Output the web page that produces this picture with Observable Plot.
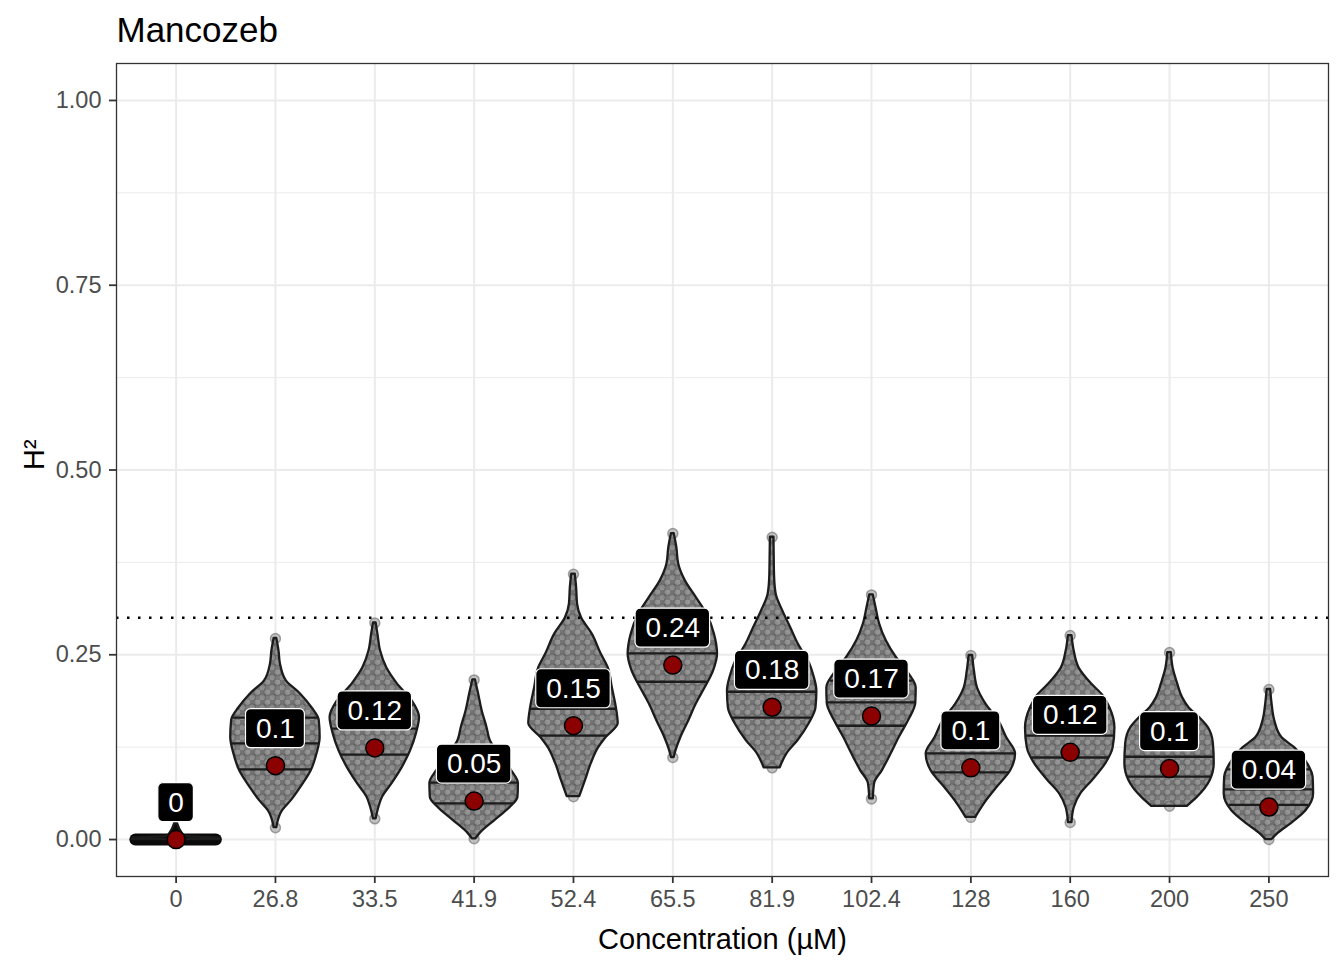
<!DOCTYPE html>
<html><head><meta charset="utf-8">
<script src="https://cdn.jsdelivr.net/npm/d3@7"></script>
<script src="https://cdn.jsdelivr.net/npm/@observablehq/plot@0.6"></script>
<style>body{margin:0;background:#fff}#chart svg{display:block}</style>
</head><body><div id="chart"></div>
<script>
// ---- data ----
const chartTitle = "Mancozeb";
const xTitle = "Concentration (µM)";
const yTitle = "H²";
const concentrations = ["0","26.8","33.5","41.9","52.4","65.5","81.9","102.4","128","160","200","250"];
const h2Estimates = [0, 0.100, 0.124, 0.052, 0.154, 0.236, 0.179, 0.167, 0.097, 0.118, 0.096, 0.044];
const q25 = [0, 0.095, 0.115, 0.049, 0.1405, 0.2135, 0.165, 0.154, 0.091, 0.111, 0.085, 0.047];
const q50 = [0, 0.130, 0.150, 0.077, 0.177, 0.252, 0.200, 0.1856, 0.1166, 0.1405, 0.112, 0.068];
const q75 = [0, 0.165, 0.182, 0.105, 0.213, 0.290, 0.235, 0.215, 0.158, 0.178, 0.165, 0.095];
// relative density (1 = widest violin) at H² values, per concentration
const densityProfiles = [
  [[0.000,0.98],[0.002,0.95],[0.004,0.20],[0.010,0.12],[0.022,0.03]],
  [[0.016,0.03],[0.039,0.16],[0.053,0.36],[0.070,0.56],[0.093,0.80],[0.116,0.93],[0.138,1.0],[0.161,0.98],[0.178,0.82],[0.197,0.56],[0.215,0.24],[0.238,0.11],[0.255,0.08],[0.272,0.03]],
  [[0.028,0.03],[0.043,0.09],[0.057,0.17],[0.076,0.39],[0.097,0.61],[0.120,0.80],[0.143,0.93],[0.165,1.0],[0.188,0.83],[0.211,0.50],[0.232,0.27],[0.255,0.13],[0.278,0.07],[0.293,0.03]],
  [[0.001,0.04],[0.008,0.13],[0.026,0.47],[0.043,0.80],[0.057,0.98],[0.076,0.99],[0.093,0.84],[0.114,0.58],[0.134,0.36],[0.151,0.29],[0.174,0.18],[0.197,0.10],[0.216,0.03]],
  [[0.058,0.14],[0.080,0.27],[0.103,0.40],[0.124,0.56],[0.138,0.73],[0.157,1.0],[0.178,0.96],[0.205,0.87],[0.232,0.78],[0.251,0.62],[0.278,0.42],[0.300,0.18],[0.319,0.09],[0.341,0.07],[0.359,0.04]],
  [[0.111,0.03],[0.120,0.07],[0.138,0.18],[0.161,0.36],[0.184,0.53],[0.205,0.72],[0.228,0.91],[0.251,1.0],[0.278,0.93],[0.305,0.76],[0.327,0.53],[0.350,0.28],[0.373,0.13],[0.395,0.09],[0.414,0.03]],
  [[0.097,0.18],[0.116,0.33],[0.134,0.58],[0.157,0.83],[0.178,0.98],[0.201,1.0],[0.222,0.93],[0.238,0.84],[0.265,0.58],[0.286,0.42],[0.309,0.24],[0.332,0.09],[0.354,0.055],[0.386,0.045],[0.409,0.04]],
  [[0.055,0.04],[0.076,0.07],[0.093,0.24],[0.116,0.44],[0.138,0.62],[0.161,0.83],[0.184,0.99],[0.205,1.0],[0.224,0.84],[0.246,0.56],[0.269,0.33],[0.292,0.18],[0.314,0.10],[0.331,0.04]],
  [[0.030,0.11],[0.049,0.31],[0.070,0.58],[0.093,0.89],[0.116,1.0],[0.138,0.80],[0.161,0.62],[0.184,0.33],[0.205,0.15],[0.228,0.08],[0.249,0.04]],
  [[0.023,0.04],[0.043,0.09],[0.062,0.24],[0.080,0.50],[0.103,0.80],[0.124,0.96],[0.151,1.0],[0.178,0.89],[0.195,0.73],[0.211,0.47],[0.232,0.20],[0.255,0.09],[0.276,0.04]],
  [[0.045,0.40],[0.057,0.62],[0.080,0.91],[0.103,1.0],[0.130,0.98],[0.151,0.87],[0.165,0.67],[0.178,0.44],[0.192,0.29],[0.211,0.18],[0.232,0.08],[0.253,0.04]],
  [[0.000,0.07],[0.008,0.20],[0.022,0.51],[0.039,0.83],[0.062,1.0],[0.084,0.99],[0.100,0.89],[0.114,0.73],[0.124,0.58],[0.138,0.29],[0.161,0.13],[0.184,0.07],[0.203,0.04]]
];
const yMajorTicks = [0, 0.25, 0.5, 0.75, 1];
const yMinorTicks = [0.125, 0.375, 0.625, 0.875];
const threshold = 0.3;

// ---- layout / style ----
const W = 1344, H = 960, ML = 116, MR = 16, MT = 63, MB = 84;
const xDomain = [0.4, concentrations.length + 0.6];
const yDomain = [-0.05, 1.05];
const halfW = 0.45;          // ggplot violin width 0.9
const labelNudge = 0.05;     // geom_label nudge_y
const labelFont = 28, labelPad = 10, labelHalfH = 19.5;
const pxPerX = (W - ML - MR) / (xDomain[1] - xDomain[0]);
const pxPerY = (H - MT - MB) / (yDomain[1] - yDomain[0]);
const font = "'Liberation Sans', Arial, Helvetica, sans-serif";
const grid = "#ebebeb";
const ink = "#1c1c1c";

// ---- derived tables ----
const groups = concentrations.map((c, k) => {
  const prof = densityProfiles[k];
  return {k, pos: k + 1, label: c, h2: h2Estimates[k], prof,
    ymin: prof[0][0], ymax: prof[prof.length - 1][0],
    flat: prof[prof.length - 1][0] - prof[0][0] < 0.05};
});
const violinRows = groups.flatMap(g => g.prof.map(([y, d]) => ({g: g.label, flat: g.flat, y, x1: g.pos - halfW * d, x2: g.pos + halfW * d})));
function densAt(prof, y) {
  for (let j = 1; j < prof.length; j++) {
    if (y <= prof[j][0]) {
      const [y0, d0] = prof[j - 1], [y1, d1] = prof[j];
      return d0 + (d1 - d0) * (y - y0) / (y1 - y0);
    }
  }
  return prof[prof.length - 1][1];
}
const quantRows = groups.filter(g => !g.flat).flatMap(g =>
  [q25[g.k], q50[g.k], q75[g.k]].map(q => {
    const d = densAt(g.prof, q);
    return {y: q, x1: g.pos - halfW * d, x2: g.pos + halfW * d};
  }));
const tipRows = groups.filter(g => !g.flat).flatMap(g => [{x: g.pos, y: g.ymin}, {x: g.pos, y: g.ymax}]);
const fmt = v => String(+v.toFixed(2));
const charW = ch => (ch === "." ? 0.278 : 0.556);
const labelRows = groups.map(g => {
  const t = fmt(g.h2);
  const w = [...t].reduce((s, ch) => s + charW(ch), 0) * labelFont;
  const hx = (w / 2 + labelPad) / pxPerX, hy = labelHalfH / pxPerY;
  const yc = g.h2 + labelNudge;
  return {x: g.pos, y: yc, t, x1: g.pos - hx, x2: g.pos + hx, y1: yc - hy, y2: yc + hy};
});

const svg = Plot.plot({
  width: W, height: H,
  marginLeft: ML, marginRight: MR, marginTop: MT, marginBottom: MB,
  style: {fontFamily: font, background: "white", color: "black"},
  x: {domain: xDomain},
  y: {domain: yDomain},
  marks: [
    Plot.gridY(yMinorTicks, {stroke: grid, strokeOpacity: 1, strokeWidth: 1}),
    Plot.gridY(yMajorTicks, {stroke: grid, strokeOpacity: 1, strokeWidth: 2}),
    Plot.gridX(groups.map(g => g.pos), {stroke: grid, strokeOpacity: 1, strokeWidth: 2}),
    // point cloud (textured fill) inside violins
    Plot.areaX(violinRows.filter(d => !d.flat), {y: "y", x1: "x1", x2: "x2", z: "g", curve: "monotone-y", fill: "url(#pts)"}),
    Plot.ruleY(groups.filter(g => g.flat), {y: "ymin", x1: g => g.pos - halfW * 0.9, x2: g => g.pos + halfW * 0.9, stroke: "#0a0a0a", strokeWidth: 12, strokeLinecap: "round"}),
    Plot.areaX(violinRows.filter(d => d.flat), {y: "y", x1: "x1", x2: "x2", z: "g", curve: "monotone-y", fill: "#0a0a0a"}),
    Plot.dot(tipRows, {x: "x", y: "y", r: 5, fill: "#8a8a8a", fillOpacity: 0.5, stroke: "#555", strokeOpacity: 0.5}),
    // violin outlines and quantiles
    Plot.areaX(violinRows, {y: "y", x1: "x1", x2: "x2", z: "g", curve: "monotone-y", fill: "none", stroke: ink, strokeWidth: 2.3}),
    Plot.ruleY(quantRows, {y: "y", x1: "x1", x2: "x2", stroke: ink, strokeWidth: 2.3}),
    Plot.ruleY([threshold], {stroke: "black", strokeWidth: 2.4, strokeDasharray: "2.5,8.5"}),
    Plot.dot(groups, {x: "pos", y: "h2", r: 9, fill: "#8b0000", stroke: "black", strokeWidth: 1.5}),
    Plot.rect(labelRows, {x1: "x1", x2: "x2", y1: "y1", y2: "y2", rx: 5, fill: "black", stroke: "white", strokeWidth: 1.2}),
    Plot.text(labelRows, {x: "x", y: "y", text: "t", fill: "white", fontSize: labelFont, lineAnchor: "middle"}),
    Plot.frame({stroke: "#333", strokeWidth: 1.3}),
    Plot.axisY({ticks: yMajorTicks, tickFormat: d3.format(".2f"), tickSize: 7, tickPadding: 8, fontSize: 23.5, stroke: "#333", strokeWidth: 1.8, fill: "#4d4d4d", label: null}),
    Plot.axisX({ticks: groups.map(g => g.pos), tickFormat: p => concentrations[p - 1], tickSize: 7, tickPadding: 7, fontSize: 23.5, stroke: "#333", strokeWidth: 1.8, fill: "#4d4d4d", label: null}),
    Plot.text([chartTitle], {frameAnchor: "top-left", dy: -22, lineAnchor: "bottom", textAnchor: "start", fontSize: 35, fill: "black"}),
    Plot.text([xTitle], {frameAnchor: "bottom", dy: 72, lineAnchor: "bottom", fontSize: 29, fill: "black"}),
    Plot.text([yTitle], {frameAnchor: "left", dx: -73, rotate: -90, lineAnchor: "bottom", fontSize: 29, fill: "black"})
  ]
});

// texture that imitates the jittered semi-transparent points
const NS = "http://www.w3.org/2000/svg";
const defs = document.createElementNS(NS, "defs");
const pat = document.createElementNS(NS, "pattern");
pat.setAttribute("id", "pts"); pat.setAttribute("patternUnits", "userSpaceOnUse");
pat.setAttribute("width", "10"); pat.setAttribute("height", "10");
const bg = document.createElementNS(NS, "rect");
bg.setAttribute("width", "10"); bg.setAttribute("height", "10"); bg.setAttribute("fill", "#858585");
pat.appendChild(bg);
[[2.5,2.5,"#6a6a6a"],[7.5,7.5,"#767676"],[7.5,2,"#a0a0a0"],[2,7.5,"#969696"]].forEach(([cx, cy, f]) => {
  const c = document.createElementNS(NS, "circle");
  c.setAttribute("cx", cx); c.setAttribute("cy", cy); c.setAttribute("r", "3.6");
  c.setAttribute("fill", f); c.setAttribute("fill-opacity", "0.6");
  c.setAttribute("stroke", "#454545"); c.setAttribute("stroke-width", "0.7"); c.setAttribute("stroke-opacity", "0.7");
  pat.appendChild(c);
});
defs.appendChild(pat);
svg.insertBefore(defs, svg.firstChild);
document.getElementById("chart").appendChild(svg);
</script>
</body></html>
